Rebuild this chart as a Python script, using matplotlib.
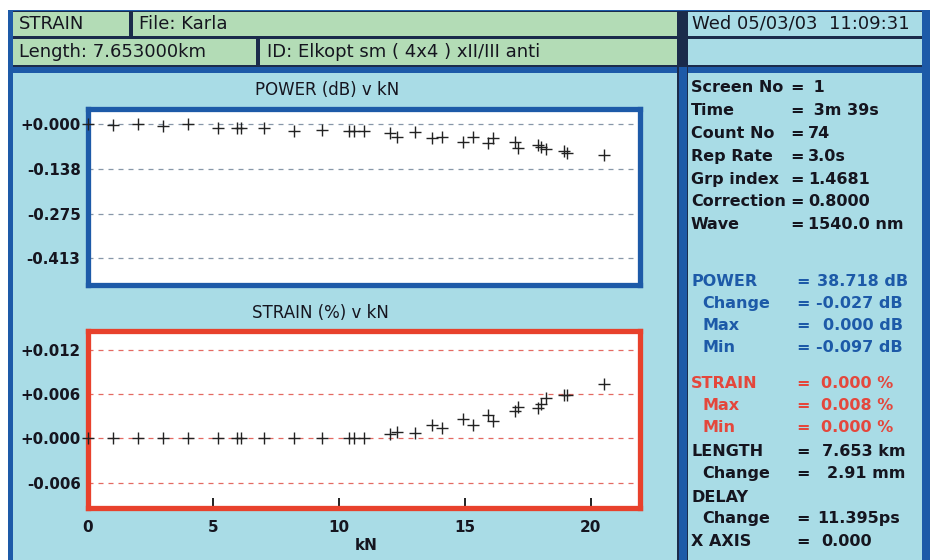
import matplotlib
matplotlib.use("Agg")
import matplotlib.pyplot as plt
from matplotlib.patches import Rectangle

# ---------------- data ----------------
load_kN = [0.0, 1.0, 2.0, 3.0, 4.0, 5.2, 5.95, 6.1, 7.0, 8.2, 9.3, 10.4, 10.6, 11.0,
           12.0, 12.3, 13.0, 13.7, 14.1, 14.9, 15.3, 15.9, 16.1, 17.0, 17.1,
           17.9, 18.0, 18.2, 18.95, 19.05, 20.5]
power_dB = [0.0, -0.002, 0.0, -0.005, 0.0, -0.012, -0.010, -0.012, -0.010, -0.020,
            -0.018, -0.020, -0.020, -0.020, -0.028, -0.038, -0.023, -0.043, -0.038,
            -0.053, -0.038, -0.058, -0.043, -0.053, -0.074, -0.064, -0.071, -0.077,
            -0.082, -0.087, -0.095]
strain_pct = [0.0, 0.0, 0.0, 0.0, 0.0, 0.0, 0.0, 0.0, 0.0, 0.0, 0.0, 0.0, 0.0, 0.0,
              0.0006, 0.0009, 0.0008, 0.0018, 0.0014, 0.0026, 0.0018, 0.0032, 0.0024,
              0.0037, 0.0043, 0.0041, 0.0047, 0.0055, 0.0059, 0.0059, 0.0073]

power_ticks = [0.0, -0.1375, -0.275, -0.4125]
power_tick_labels = ["+0.000", "-0.138", "-0.275", "-0.413"]
strain_ticks = [0.012, 0.006, 0.0, -0.006]
strain_tick_labels = ["+0.012", "+0.006", "+0.000", "-0.006"]
x_ticks = [0, 5, 10, 15, 20]
x_tick_labels = ["0", "5", "10", "15", "20"]

header_texts = ["STRAIN", "File: Karla", "Length: 7.653000km",
                "ID: Elkopt sm ( 4x4 ) xII/III anti", "Wed 05/03/03  11:09:31"]

info_labels = ["Screen No", "Time", "Count No", "Rep Rate", "Grp index", "Correction", "Wave"]
info_values = [" 1", " 3m 39s", "74", "3.0s", "1.4681", "0.8000", "1540.0 nm"]

meas_labels = ["POWER", " Change", " Max", " Min",
               "STRAIN", " Max", " Min",
               "LENGTH", " Change", "DELAY", " Change", "X AXIS"]
meas_values = ["38.718 dB", "-0.027 dB", "0.000 dB", "-0.097 dB",
               "0.000 %", "0.008 %", "0.000 %",
               "7.653 km", "2.91 mm", "", "11.395ps", "0.000"]
meas_groups = ["power"] * 4 + ["strain"] * 3 + ["other"] * 5

# ---------------- style ----------------
FRAME_BLUE = "#1d5aa8"
NAVY = "#1b2b4b"
GREEN = "#b3dcb6"
LIGHT = "#a9dce6"
TXT = "#15151f"
BLUE_TXT = "#1d5aa8"
RED_TXT = "#e4473c"
RED_FRAME = "#e8412c"

plt.rcParams["font.family"] = ["DejaVu Sans"]

W, H = 930, 560
fig = plt.figure(figsize=(W / 100, H / 100), dpi=100, facecolor="white")

bg = fig.add_axes([0, 0, 1, 1], zorder=0)
bg.set_xlim(0, W)
bg.set_ylim(H, 0)
bg.axis("off")


def rect(x0, y0, x1, y1, c):
    bg.add_patch(Rectangle((x0, y0), x1 - x0, y1 - y0, facecolor=c, edgecolor="none", lw=0))


rect(8, 10, 930, 560, FRAME_BLUE)
rect(13, 10.5, 922, 66.5, NAVY)
rect(13, 12, 129, 36, GREEN)
rect(133, 12, 677, 36, GREEN)
rect(13, 39, 256, 65, GREEN)
rect(260, 39, 677, 65, GREEN)
rect(688, 12, 922, 36, LIGHT)
rect(688, 39, 922, 65, LIGHT)
rect(677, 12, 688, 66.5, NAVY)
rect(13, 73, 677, 560, LIGHT)
rect(688, 73, 922, 560, LIGHT)
rect(677, 66.5, 678.5, 560, NAVY)
rect(686.5, 66.5, 688, 560, NAVY)

hdr_kw = dict(fontsize=13, color=TXT, va="center")
bg.text(19, 24, header_texts[0], **hdr_kw)
bg.text(139, 24, header_texts[1], **hdr_kw)
bg.text(19, 52, header_texts[2], **hdr_kw)
bg.text(267, 52, header_texts[3], **hdr_kw)
bg.text(692, 24, header_texts[4], **hdr_kw)

# right info panel
info_kw = dict(fontsize=11.5, fontweight="bold", va="center")
y = 88
for lab, val in zip(info_labels, info_values):
    bg.text(691, y, lab, color=TXT, **info_kw)
    bg.text(790, y, "=", color=TXT, **info_kw)
    bg.text(808, y, val, color=TXT, **info_kw)
    y += 22.8

meas_y = [282, 303.5, 325.5, 348, 383, 406, 428, 452, 473.5, 497, 518.5, 542]
meas_xend = [908, 903, 903, 903, 893, 893, 893, 905, 905, 905, 900, 872]
group_color = {"power": BLUE_TXT, "strain": RED_TXT, "other": TXT}
for lab, val, g, yy, xe in zip(meas_labels, meas_values, meas_groups, meas_y, meas_xend):
    c = group_color[g]
    indent = 702 if lab.startswith(" ") else 691
    bg.text(indent, yy, lab.strip(), color=c, **info_kw)
    if val:
        bg.text(796, yy, "=", color=c, **info_kw)
        bg.text(xe, yy, val, color=c, ha="right", **info_kw)

# plot titles
bg.text(327, 90, "POWER (dB) v kN", fontsize=12, color=TXT, ha="center", va="center")
bg.text(320, 313, "STRAIN (%) v kN", fontsize=12, color=TXT, ha="center", va="center")
bg.text(366, 545, "kN", fontsize=11, fontweight="bold", color=TXT, ha="center", va="center")


def fig_box(x0, y0, x1, y1):
    return [x0 / W, (H - y1) / H, (x1 - x0) / W, (y1 - y0) / H]


XMAX = 21.95

# ---- power axes ----
axp = fig.add_axes(fig_box(87.5, 108.5, 640, 285), zorder=2)
axp.set_facecolor("white")
axp.set_xlim(0, XMAX)
axp.set_ylim(-0.4945, 0.0486)
for s in axp.spines.values():
    s.set_color(FRAME_BLUE)
    s.set_linewidth(3.8)
axp.set_xticks([])
axp.set_yticks(power_ticks)
axp.set_yticklabels(power_tick_labels)
axp.tick_params(axis="y", length=0, pad=5, labelsize=10.8, labelcolor=TXT)
for lbl in axp.get_yticklabels():
    lbl.set_fontweight("bold")
axp.grid(axis="y", color="#8797a8", linestyle=(0, (4, 4)), linewidth=0.9)
axp.plot(load_kN, power_dB, "+", color="#222222", ms=8.5, mew=1.0, zorder=4, clip_on=False)

# ---- strain axes ----
axs = fig.add_axes(fig_box(87.5, 330.5, 640, 508), zorder=2)
axs.set_facecolor("white")
axs.set_xlim(0, XMAX)
axs.set_ylim(-0.00941, 0.0146)
for s in axs.spines.values():
    s.set_color(RED_FRAME)
    s.set_linewidth(3.8)
axs.set_yticks(strain_ticks)
axs.set_yticklabels(strain_tick_labels)
axs.tick_params(axis="y", length=0, pad=5, labelsize=10.8, labelcolor=TXT)
axs.set_xticks(x_ticks)
axs.set_xticklabels(x_tick_labels)
axs.tick_params(axis="x", direction="in", length=7, width=1.4, color="#222222",
                pad=9, labelsize=11, labelcolor=TXT)
for lbl in axs.get_yticklabels() + axs.get_xticklabels():
    lbl.set_fontweight("bold")
axs.grid(axis="y", color="#e46a62", linestyle=(0, (4, 4)), linewidth=0.9)
axs.plot(load_kN, strain_pct, "+", color="#222222", ms=8.5, mew=1.0, zorder=4, clip_on=False)

fig.savefig("out.png", dpi=100, facecolor="white")
